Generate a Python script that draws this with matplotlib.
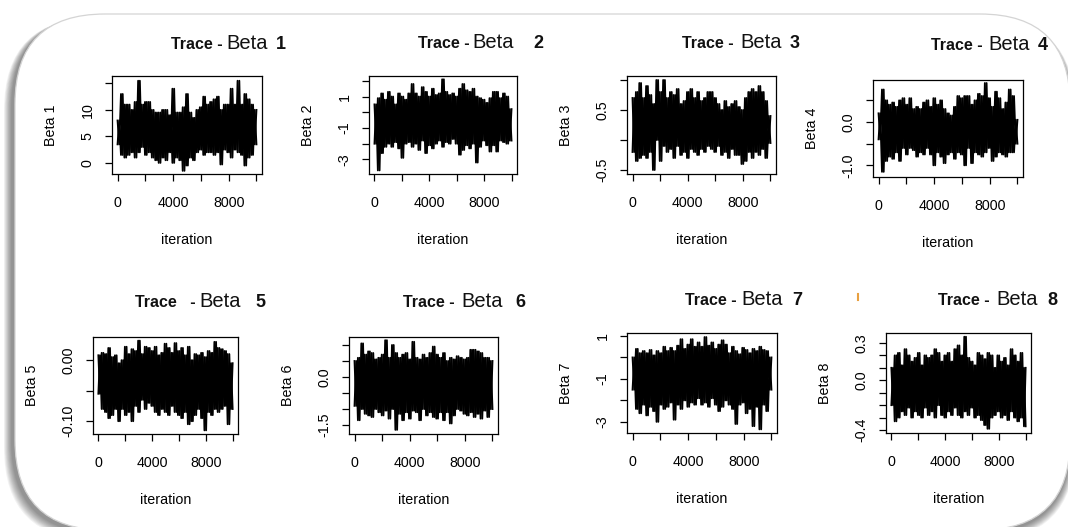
import numpy as np
import matplotlib
matplotlib.use("Agg")
import matplotlib.pyplot as plt
from matplotlib.patches import FancyBboxPatch
from matplotlib.transforms import IdentityTransform
from matplotlib.lines import Line2D

W, H = 1068, 527
plt.rcParams['font.family'] = ['Liberation Sans', 'DejaVu Sans']

# ---------------- data ----------------
iterations = list(range(0, 10001, 250))   # sampled iteration positions

beta1_hi = [8, 13, 11, 11, 10, 11.5, 15.5, 11, 11.5, 11.5, 10, 9.5, 9.5, 10, 10, 9, 14, 9.5, 9.5, 10.5,
            13, 9.5, 8.5, 10, 10.5, 12.5, 11, 11.5, 12, 12.5, 10, 11, 11, 14, 11, 15.5, 11, 13, 12, 11, 10]
beta1_lo = [3.5, 1.5, 1, 1.5, 2, 1, 2, 3, 1.5, 2, 1, 0.5, 0, 1, 0.5, 2, 0, 1, 0.5, -1.5,
            -0.5, 1, 0.5, 2, 2.5, 1.5, 2, 2, 1.5, 2, -0.3, 2.5, 2, 1, 2.5, 2, 1.5, -0.5, 1, 1.5, 3.5]

beta2_hi = [0.5, 0.9, 1.2, 0.8, 1.3, 1.0, 0.5, 1.2, 1.0, 0.8, 1.2, 1.8, 1.2, 1.0, 1.6, 1.3, 1.0, 1.5, 1.1, 1.2,
            2.1, 1.3, 1.1, 1.2, 1.0, 1.5, 1.8, 1.4, 1.3, 1.5, 1.0, 0.9, 0.8, 0.6, 0.9, 1.3, 1.3, 0.9, 1.2, 1.0, 0.2]
beta2_lo = [-2.0, -3.7, -2.6, -2.2, -2.0, -2.2, -1.9, -2.3, -2.9, -2.0, -1.9, -2.2, -2.0, -2.4, -1.8, -2.6, -2.1,
            -2.3, -2.0, -1.8, -2.2, -1.9, -2.0, -1.7, -2.0, -2.7, -2.4, -2.1, -2.3, -2.0, -3.2, -2.2, -1.8, -2.1,
            -2.5, -2.1, -2.5, -1.8, -1.9, -2.0, -1.8]

beta3_hi = [0.7, 0.8, 0.95, 0.7, 0.9, 0.75, 0.6, 1.0, 0.8, 1.0, 0.7, 0.8, 0.75, 0.85, 0.6, 0.65, 0.8, 0.85, 0.7,
            0.8, 0.65, 0.7, 0.8, 0.8, 0.7, 0.6, 0.5, 0.65, 0.55, 0.6, 0.65, 0.55, 0.5, 0.7, 0.8, 0.85, 0.8, 0.9,
            0.8, 0.65, 0.4]
beta3_lo = [-0.2, -0.35, -0.3, -0.25, -0.3, -0.2, -0.5, 0.0, -0.35, -0.1, -0.2, -0.15, -0.3, -0.1, -0.25, -0.2,
            -0.3, -0.15, -0.2, -0.25, -0.15, -0.2, -0.1, -0.15, -0.2, -0.1, -0.25, -0.2, -0.3, -0.15, -0.25, -0.25,
            -0.4, -0.35, -0.2, -0.3, -0.2, -0.25, -0.15, -0.3, -0.05]

beta4_hi = [0.2, 0.75, 0.5, 0.4, 0.45, 0.35, 0.5, 0.55, 0.4, 0.55, 0.3, 0.35, 0.3, 0.45, 0.5, 0.35, 0.55, 0.4,
            0.5, 0.3, 0.2, 0.15, 0.35, 0.6, 0.55, 0.6, 0.6, 0.4, 0.5, 0.65, 0.6, 0.9, 0.55, 0.35, 0.7, 0.55, 0.3,
            0.45, 0.75, 0.6, 0.05]
beta4_lo = [-0.4, -1.15, -0.9, -0.8, -0.85, -0.7, -0.9, -0.6, -0.75, -0.6, -0.65, -0.8, -0.7, -0.75, -0.6, -0.75,
            -1.0, -0.7, -0.8, -0.95, -0.75, -0.7, -0.85, -0.7, -0.75, -1.0, -0.6, -0.95, -0.7, -0.75, -0.8, -0.7,
            -0.6, -0.9, -0.8, -0.7, -0.75, -0.8, -0.7, -0.7, -0.5]

beta5_hi = [0.008, 0.012, 0.01, 0.02, 0.005, 0.008, -0.005, 0.0, 0.022, 0.01, 0.018, 0.015, 0.032, 0.01, 0.022,
            0.02, 0.015, 0.022, 0.008, 0.012, 0.027, 0.02, 0.012, 0.028, 0.015, 0.02, 0.008, 0.022, 0.0, 0.01,
            0.008, 0.012, 0.005, 0.015, 0.012, 0.03, 0.02, 0.018, 0.015, 0.01, -0.005]
beta5_lo = [-0.055, -0.08, -0.085, -0.095, -0.09, -0.08, -0.1, -0.08, -0.09, -0.085, -0.1, -0.075, -0.085,
            -0.065, -0.08, -0.07, -0.075, -0.085, -0.09, -0.08, -0.085, -0.09, -0.075, -0.085, -0.09, -0.095,
            -0.085, -0.105, -0.1, -0.09, -0.08, -0.095, -0.115, -0.085, -0.09, -0.08, -0.085, -0.08, -0.075,
            -0.105, -0.08]

beta6_hi = [0.5, 0.6, 1.05, 0.7, 0.8, 0.75, 0.55, 0.6, 0.7, 1.15, 0.6, 1.0, 0.75, 0.6, 0.7, 0.75, 0.55, 1.1, 0.6,
            0.55, 0.7, 0.6, 0.75, 0.95, 0.7, 0.6, 0.75, 0.5, 0.6, 0.55, 0.65, 0.6, 0.55, 0.6, 0.85, 0.85, 0.8,
            0.75, 0.6, 0.6, 0.5]
beta6_lo = [-0.9, -1.35, -1.0, -1.15, -1.2, -1.25, -1.0, -1.1, -1.2, -1.05, -1.3, -1.0, -1.65, -1.15, -1.35,
            -1.1, -1.3, -1.05, -1.1, -1.35, -1.0, -1.2, -1.1, -1.25, -1.3, -1.1, -1.35, -1.1, -1.45, -1.2, -1.0,
            -1.05, -1.15, -1.2, -1.1, -1.25, -1.15, -1.3, -1.05, -1.25, -1.0]

beta7_hi = [0.0, 0.4, 0.2, 0.3, 0.2, 0.35, 0.1, 0.3, 0.2, 0.5, 0.3, 0.45, 0.3, 0.55, 0.85, 0.4, 0.6, 0.85, 0.5,
            0.7, 0.5, 0.95, 0.55, 0.7, 0.4, 0.6, 0.8, 0.6, 0.2, 0.5, 0.3, 0.15, 0.45, 0.35, 0.2, 0.4, 0.3, 0.5,
            0.35, 0.3, 0.0]
beta7_lo = [-1.5, -2.4, -2.6, -2.2, -2.7, -2.3, -2.5, -3.0, -2.2, -2.4, -2.3, -2.1, -2.9, -2.2, -2.4, -2.0, -2.3,
            -2.1, -2.2, -1.9, -2.2, -2.1, -2.3, -1.9, -2.2, -2.5, -2.3, -2.0, -2.2, -2.4, -3.1, -2.2, -2.1, -2.6,
            -2.4, -3.2, -2.3, -3.35, -2.2, -2.5, -1.5]

beta8_hi = [0.1, 0.2, 0.22, 0.12, 0.25, 0.2, 0.15, 0.18, 0.22, 0.12, 0.2, 0.18, 0.2, 0.25, 0.22, 0.15, 0.2, 0.22,
            0.15, 0.25, 0.28, 0.2, 0.35, 0.18, 0.15, 0.12, 0.22, 0.2, 0.17, 0.22, 0.2, 0.1, 0.2, 0.15, 0.18, 0.12,
            0.25, 0.2, 0.15, 0.22, 0.1]
beta8_lo = [-0.2, -0.33, -0.3, -0.25, -0.28, -0.22, -0.3, -0.25, -0.28, -0.3, -0.22, -0.28, -0.25, -0.3, -0.2,
            -0.28, -0.3, -0.25, -0.28, -0.22, -0.28, -0.3, -0.25, -0.28, -0.22, -0.3, -0.28, -0.32, -0.36, -0.39,
            -0.3, -0.28, -0.25, -0.3, -0.28, -0.32, -0.25, -0.3, -0.33, -0.3, -0.37]

param_names = ["Beta 1", "Beta 2", "Beta 3", "Beta 4", "Beta 5", "Beta 6", "Beta 7", "Beta 8"]
title_prefix = ["Trace -", "Trace -", "Trace -", "Trace -", "Trace   -", "Trace -", "Trace -", "Trace -"]
title_digit = ["1", "2", "3", "4", "5", "6", "7", "8"]
highs = [beta1_hi, beta2_hi, beta3_hi, beta4_hi, beta5_hi, beta6_hi, beta7_hi, beta8_hi]
lows = [beta1_lo, beta2_lo, beta3_lo, beta4_lo, beta5_lo, beta6_lo, beta7_lo, beta8_lo]

x_ticks = [0, 2000, 4000, 6000, 8000, 10000]
x_ticklabels = ["0", "", "4000", "", "8000", ""]
y_ticks = [
    [0, 5, 10, 15],
    [-3, -2, -1, 0, 1, 2],
    [-0.5, 0.0, 0.5, 1.0],
    [-1.0, -0.5, 0.0, 0.5],
    [-0.10, -0.05, 0.00],
    [-1.5, -1.0, -0.5, 0.0, 0.5, 1.0],
    [-3, -2, -1, 0, 1],
    [-0.4, -0.3, -0.2, -0.1, 0.0, 0.1, 0.2, 0.3],
]
y_ticklabels = [
    ["0", "5", "10", ""],
    ["-3", "", "-1", "", "1", ""],
    ["-0.5", "", "0.5", ""],
    ["-1.0", "", "0.0", ""],
    ["-0.10", "", "0.00"],
    ["-1.5", "", "", "0.0", "", ""],
    ["-3", "", "-1", "", "1"],
    ["-0.4", "", "", "", "0.0", "", "", "0.3"],
]
y_limits = [(-2.1, 16.4), (-3.93, 2.31), (-0.567, 1.067), (-1.27, 0.97),
            (-0.121, 0.038), (-1.78, 1.25), (-3.52, 1.14), (-0.424, 0.38)]

# ---------------- layout (pixels in the picture) ----------------
axes_px = [(112, 76, 262, 174), (369, 76, 517, 174), (627, 76, 776, 174), (873, 80, 1023, 177),
           (93, 337, 238, 434), (349, 337, 498, 434), (627, 333, 777, 433), (886, 333, 1031, 433)]
# (end of "Trace -", start of "Beta", start of digit, baseline)
title_px = [(223, 226, 276, 49), (470, 472, 533, 48), (734, 740, 790, 48), (983, 988, 1038, 50),
            (196, 199, 255, 307), (455, 461, 515, 307), (737, 741, 792, 305), (990, 996, 1047, 305)]

fig = plt.figure(figsize=(W / 100, H / 100), dpi=100)
fig.patch.set_facecolor("white")


def rbox(x0, y0, x1, y1, r, **kw):
    return FancyBboxPatch((x0, H - y1), x1 - x0, y1 - y0,
                          boxstyle=f"round,pad=0,rounding_size={r}",
                          transform=IdentityTransform(), zorder=-10, **kw)


# shadow + rounded frame
for i in range(10, 0, -1):
    fig.patches.append(rbox(15 - 3 - i * 0.8, 16 + i * 0.2, 1070 + i * 0.5, 533 + i * 0.7, 92,
                            facecolor="black", alpha=0.05, lw=0))
fig.patches.append(rbox(15, 14, 1070, 530, 90, facecolor="white", edgecolor="#d4d4d4", lw=0.9))

FS = 10.3
for k in range(8):
    x0, y0, x1, y1 = axes_px[k]
    ax = fig.add_axes([x0 / W, 1 - y1 / H, (x1 - x0) / W, (y1 - y0) / H])
    ax.set_facecolor("white")
    # the chain alternates between its upper and lower excursions
    trace_a = [v for pair in zip(highs[k], lows[k]) for v in pair]
    trace_b = [v for pair in zip(lows[k], highs[k]) for v in pair]
    xs = np.linspace(iterations[0], iterations[-1], len(trace_a))
    ax.plot(xs, trace_a, color="black", lw=1.35, solid_joinstyle="round")
    ax.plot(xs, trace_b, color="black", lw=1.35, solid_joinstyle="round")
    ax.set_xlim(-400, 10400)
    ax.set_ylim(*y_limits[k])
    ax.set_xticks(x_ticks)
    ax.set_xticklabels(x_ticklabels)
    ax.set_yticks(y_ticks[k])
    ax.set_yticklabels(y_ticklabels[k])
    ax.tick_params(direction="out", length=5, width=0.9, labelsize=FS, colors="black")
    ax.tick_params(axis="x", pad=11)
    ax.tick_params(axis="y", pad=7.5, labelrotation=90)
    for lab in ax.get_yticklabels():
        lab.set_verticalalignment("center")
    for s in ax.spines.values():
        s.set_linewidth(0.9)
    # axis labels
    cx = (x0 + x1) / 2
    cy = (y0 + y1) / 2
    fig.text((x0 - 61) / W, 1 - cy / H, param_names[k], rotation=90, ha="center", va="center", fontsize=FS)
    fig.text(cx / W, 1 - (y1 + 66) / H, "iteration", ha="center", va="center", fontsize=FS)
    # title
    te, bs, ds, bl = title_px[k]
    fig.text(te / W, 1 - bl / H, title_prefix[k], ha="right", va="baseline", fontsize=11.5,
             fontweight="bold", color="#111111")
    fig.text(bs / W, 1 - bl / H, "Beta", ha="left", va="baseline", fontsize=14.5, color="#111111")
    fig.text(ds / W, 1 - bl / H, title_digit[k], ha="left", va="baseline", fontsize=13,
             fontweight="bold", color="#111111")

# small stray mark present in the picture
fig.lines.append(Line2D([858, 858], [H - 294, H - 300], transform=IdentityTransform(),
                        color="#e8a040", lw=1.5))

fig.savefig("out.png", dpi=100)
